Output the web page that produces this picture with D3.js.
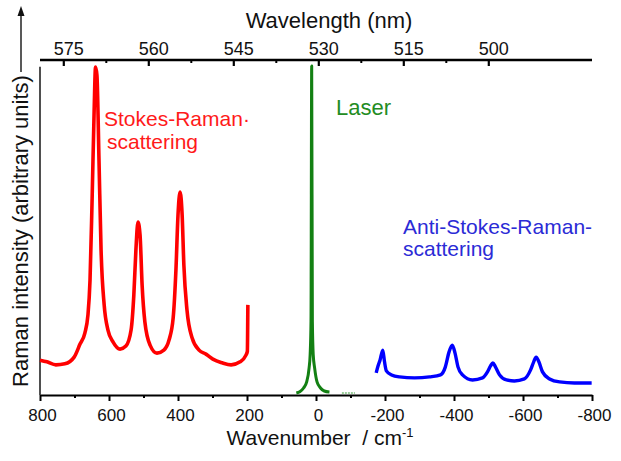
<!DOCTYPE html>
<html>
<head>
<meta charset="utf-8">
<script src="https://cdn.jsdelivr.net/npm/d3@7"></script>
<style>
  body { margin: 0; background: #fff; }
  text { font-family: "Liberation Sans", Arial, Helvetica, sans-serif; }
</style>
</head>
<body>
<div id="chart"></div>
<script>
// Stokes-Raman (red)
const stokesWn = [800, 780, 754, 728, 701, 684, 670, 661, 655, 649, 643, 639, 635, 629, 623, 614, 603, 588, 568, 551, 536, 528, 522, 516, 510, 504, 496, 481, 461, 441, 426, 414, 406, 400, 394, 388, 383, 374, 359, 339, 319, 299, 272, 246, 220, 203, 199, 197.5];
const stokesInt = [10.4, 9.9, 9.0, 9.3, 11.3, 15.2, 18.5, 23.9, 34.3, 58.2, 85.1, 97.9, 95.5, 70.1, 43.3, 26.9, 19.4, 15.8, 13.7, 14.6, 19.4, 29.9, 43.3, 51.6, 47.8, 32.8, 21.8, 14.9, 12.5, 13.4, 16.4, 23.0, 37.3, 53.7, 60.6, 53.7, 38.8, 25.4, 17.0, 13.4, 12.2, 10.7, 9.6, 9.0, 9.9, 11.9, 13.0, 26.9];

// laser line (green)
const laserWn = [57, 47, 36, 27, 20, 17, 14.5, 12.5, 10.5, 8, 4, -3, -13, -24, -39];
const laserInt = [0.6, 1.0, 2.1, 3.9, 8.1, 12, 22, 98.2, 22, 12, 8.1, 3.9, 2.1, 1.2, 0.9];
const laserTailWn = [-75, -113];
const laserTailInt = [0.6, 0.6];

// Anti-Stokes-Raman (blue)
const antiWn = [-174.5, -180, -185.5, -193.6, -198.6, -204, -219, -242, -285.5, -329, -361, -375, -385.5, -395, -403, -411.5, -424.6, -453.6, -482.6, -497, -506, -512.5, -520, -532, -552, -575, -604, -622, -631, -638, -646, -656.5, -677, -706, -749, -799];
const antiInt = [6.6, 8.7, 10.4, 13.4, 9.9, 7.2, 6.0, 5.4, 5.1, 5.4, 6.0, 8.4, 12.8, 14.9, 12.5, 8.4, 6.0, 4.5, 5.1, 6.9, 8.7, 9.6, 8.4, 6.0, 4.5, 4.2, 4.8, 7.5, 9.9, 11.3, 9.9, 6.9, 4.8, 3.9, 3.6, 3.6];

// ticks
const wnMajor = [800, 600, 400, 200, 0, -200, -400, -600, -800];
const wnMinor = [700, 500, 300, 100, -100, -300, -500, -700];
const wlMajor = [575, 560, 545, 530, 515, 500];
const wlMinor = [567.5, 552.5, 537.5, 522.5, 507.5];

const width = 621, height = 461;
const svg = d3.select("#chart").append("svg")
  .attr("width", width)
  .attr("height", height);

const x = d3.scaleLinear().domain([800, -800]).range([40, 592]);
const xw = d3.scaleLinear().domain([575, 500]).range([63.3, 488.3]);
const y = d3.scaleLinear().domain([0, 100]).range([395, 60]);

// bottom axis
const bottomAxis = svg.append("g").attr("transform", "translate(0,395)");
bottomAxis.call(d3.axisBottom(x).tickValues(wnMajor).tickSize(6).tickSizeOuter(0).tickFormat(d3.format("d")));
bottomAxis.select(".domain").attr("stroke-width", 2.2);
bottomAxis.selectAll(".tick line").attr("stroke-width", 2);
bottomAxis.selectAll(".tick text")
  .attr("y", 26).attr("dy", 0).attr("dx", 2)
  .style("font-size", "17px").attr("fill", "#111")
  .text(d => d === 0 ? "0" : d < 0 ? "-" + Math.abs(d) : d);
const bottomMinor = svg.append("g").attr("transform", "translate(0,395)");
bottomMinor.call(d3.axisBottom(x).tickValues(wnMinor).tickSize(3).tickSizeOuter(0).tickFormat(""));
bottomMinor.select(".domain").remove();
bottomMinor.selectAll(".tick line").attr("stroke-width", 2);

// top axis (wavelength), ticks point inside
const topAxis = svg.append("g").attr("transform", "translate(0,60)");
topAxis.call(d3.axisTop(xw).tickValues(wlMajor).tickSize(-6).tickSizeOuter(0));
topAxis.select(".domain").attr("d", `M${x(800)},0H${x(-800)}`).attr("stroke-width", 2.6);
topAxis.selectAll(".tick line").attr("stroke-width", 2.2);
topAxis.selectAll(".tick text")
  .attr("y", -5).attr("dy", 0).attr("dx", 5)
  .style("font-size", "18px").attr("fill", "#111");
const topMinor = svg.append("g").attr("transform", "translate(0,60)");
topMinor.call(d3.axisTop(xw).tickValues(wlMinor).tickSize(-3).tickSizeOuter(0).tickFormat(""));
topMinor.select(".domain").remove();
topMinor.selectAll(".tick line").attr("stroke-width", 2);

// left axis line
svg.append("line")
  .attr("x1", x(800)).attr("x2", x(800))
  .attr("y1", y(98)).attr("y2", y(0))
  .attr("stroke", "#222").attr("stroke-width", 1.6);

// y label with arrow
svg.append("text")
  .attr("transform", "translate(28,231) rotate(-90)")
  .attr("text-anchor", "middle")
  .style("font-size", "22px").attr("fill", "#111")
  .text("Raman intensity (arbitrary units)");
svg.append("line")
  .attr("x1", 21).attr("x2", 21).attr("y1", 72).attr("y2", 13)
  .attr("stroke", "#222").attr("stroke-width", 1.5);
svg.append("path")
  .attr("d", "M21,6L24.5,16L17.5,16Z")
  .attr("fill", "#111");

// axis titles
svg.append("text")
  .attr("x", 329).attr("y", 28)
  .attr("text-anchor", "middle")
  .style("font-size", "22px").attr("fill", "#111")
  .text("Wavelength (nm)");
const xt = svg.append("text")
  .attr("x", 320).attr("y", 445)
  .attr("text-anchor", "middle")
  .style("font-size", "21px").attr("fill", "#111")
  .attr("xml:space", "preserve");
xt.append("tspan").text("Wavenumber  / cm");
xt.append("tspan").attr("dy", -8).style("font-size", "13px").text("-1");

// spectra
const line = d3.line()
  .x(d => x(d[0]))
  .y(d => y(d[1]))
  .curve(d3.curveMonotoneX);

function pairs(a, b) { return a.map((v, i) => [v, b[i]]); }

svg.append("path")
  .datum(pairs(stokesWn, stokesInt))
  .attr("d", line)
  .attr("fill", "none")
  .attr("stroke", "#ff0000")
  .attr("stroke-width", 3.6)
  .attr("stroke-linejoin", "round");

svg.append("path")
  .datum(pairs(laserWn, laserInt))
  .attr("d", line)
  .attr("fill", "none")
  .attr("stroke", "#138013")
  .attr("stroke-width", 3)
  .attr("stroke-linejoin", "round");

svg.append("path")
  .datum(pairs(laserTailWn, laserTailInt))
  .attr("d", line)
  .attr("fill", "none")
  .attr("stroke", "#7cbf7c")
  .attr("stroke-width", 1.4)
  .attr("stroke-dasharray", "2,1");

svg.append("path")
  .datum(pairs(antiWn, antiInt))
  .attr("d", line)
  .attr("fill", "none")
  .attr("stroke", "#0000ff")
  .attr("stroke-width", 3.4)
  .attr("stroke-linejoin", "round");

// annotations
const stokesLbl = svg.append("text")
  .attr("x", 104).attr("y", 126)
  .style("font-size", "21px").attr("fill", "#ff1a1a");
stokesLbl.append("tspan").text("Stokes-Raman·");
stokesLbl.append("tspan").attr("x", 107).attr("dy", 23).text("scattering");

svg.append("text")
  .attr("x", 336).attr("y", 115)
  .style("font-size", "22px").attr("fill", "#238c23")
  .text("Laser");

const antiLbl = svg.append("text")
  .attr("x", 403).attr("y", 234)
  .style("font-size", "21px").attr("fill", "#2b2bd6");
antiLbl.append("tspan").text("Anti-Stokes-Raman-");
antiLbl.append("tspan").attr("x", 403).attr("dy", 22).text("scattering");
</script>
</body>
</html>
